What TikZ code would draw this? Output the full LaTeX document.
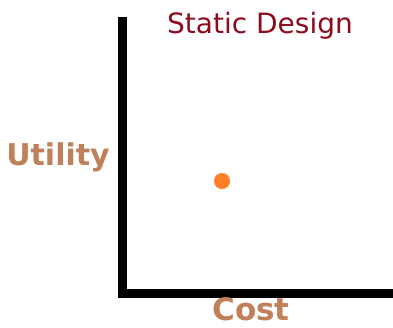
\documentclass[tikz,border=0pt]{standalone}
\usepackage{fontspec}
\setmainfont{DejaVu Sans}
\usetikzlibrary{positioning}
\definecolor{titlered}{RGB}{139,12,28}
\definecolor{labeltan}{RGB}{192,128,90}
\definecolor{dotorange}{RGB}{255,127,39}

\begin{document}
\begin{tikzpicture}[x=1pt,y=-1pt]
\useasboundingbox (0,0) rectangle (393,327);
\tikzstyle{axislabel}=[text=labeltan, font=\bfseries\fontsize{30}{30}\selectfont, inner sep=0pt, anchor=base];
\coordinate (top) at (122,17);
\coordinate (origin) at (122,293);
\coordinate (right) at (393,293);
\draw[line width=9pt] (top) -- (origin) -- (right);
\draw (260,33) node[text=titlered, font=\fontsize{28}{28}\selectfont, inner sep=0pt, anchor=base] (title) {Static Design};
\draw (58,165) node[axislabel] (utility) {Utility};
\draw (251,320) node[axislabel, font=\bfseries\fontsize{31}{31}\selectfont] (cost) {Cost};
\fill[dotorange] (222,181) circle (8) coordinate (design);
\end{tikzpicture}
\end{document}
